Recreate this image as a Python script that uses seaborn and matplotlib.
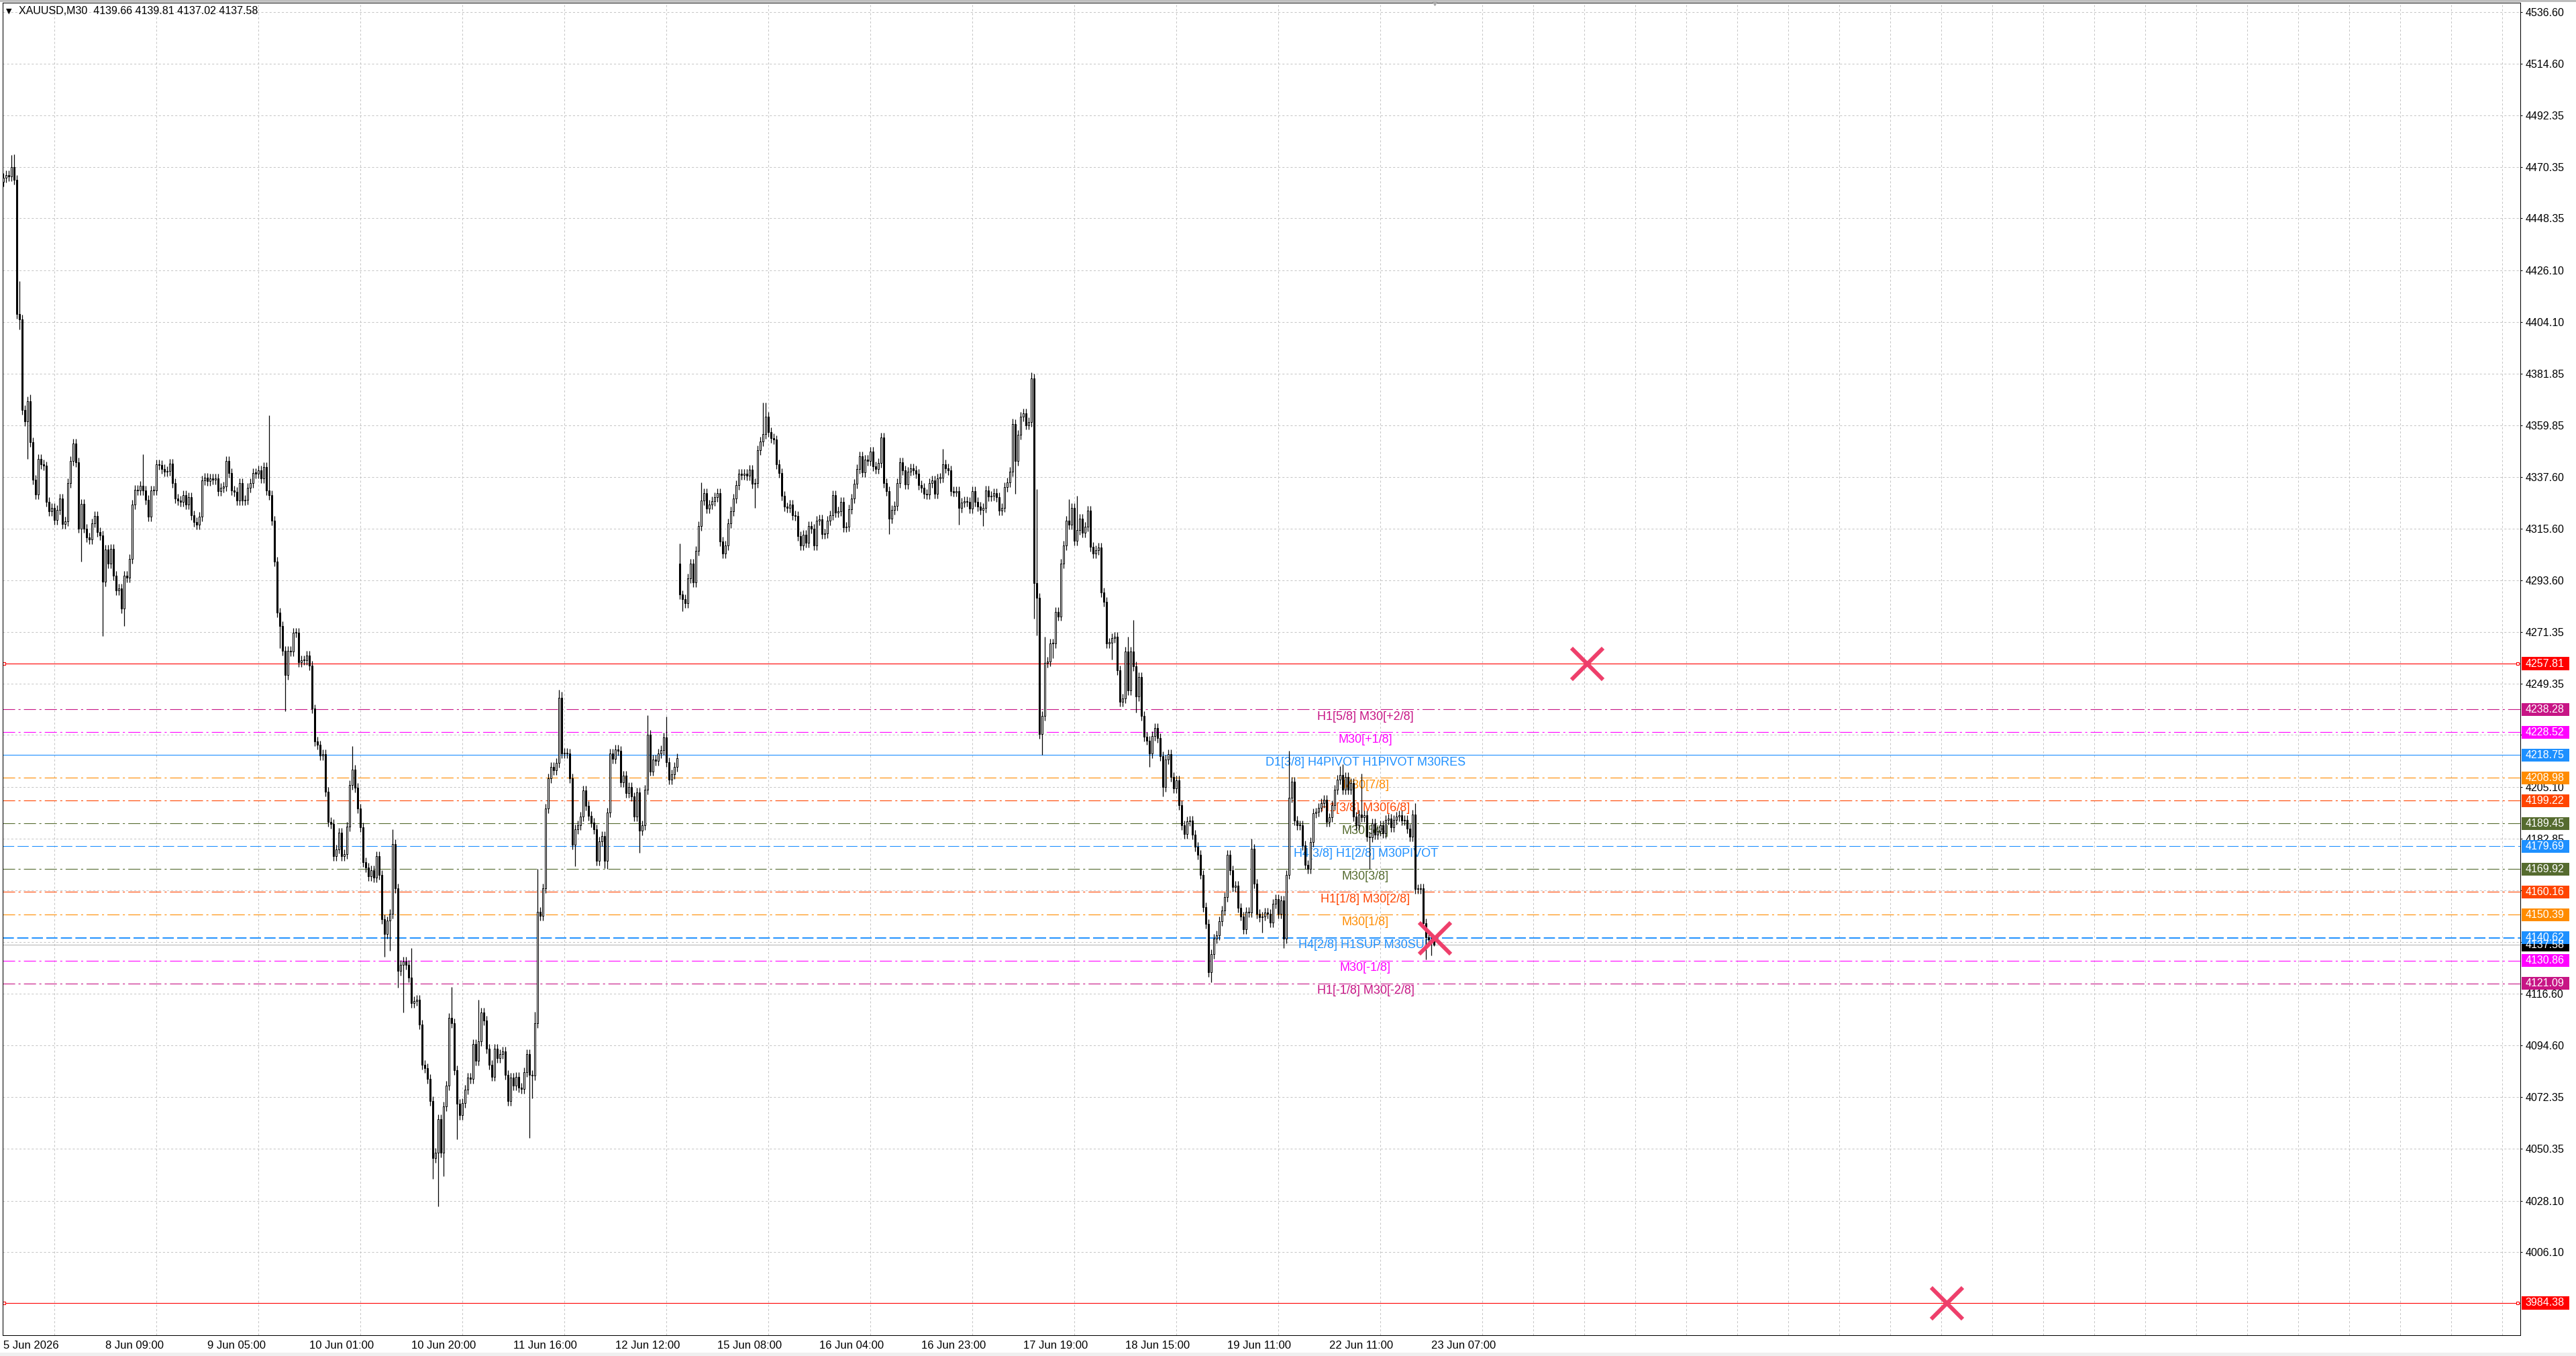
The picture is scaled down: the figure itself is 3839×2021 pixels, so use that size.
import numpy as np
import pandas as pd
import seaborn as sns
import matplotlib.pyplot as plt
import matplotlib.transforms as mtransforms
from matplotlib.patches import Rectangle

# ---------------- XAUUSD M30 closes ----------------
first_open = 4464.0

closes_jun05_08 = [
    4465.8, 4466.7, 4466.3, 4470.3, 4464.8, 4407.3, 4405.0, 4366.5, 4361.4, 4370.1,
    4352.6, 4336.6, 4330.3, 4345.3, 4343.2, 4342.4, 4327.1, 4323.1, 4324.6, 4319.4,
    4323.5, 4328.6, 4317.6, 4318.6, 4335.1, 4344.6, 4351.9, 4344.0, 4315.7, 4326.1,
    4315.7, 4311.8, 4311.0, 4318.0, 4320.9, 4314.1, 4312.6, 4292.9, 4306.7, 4300.7,
    4307.0, 4295.4, 4289.2, 4290.0, 4281.3, 4295.4, 4294.5, 4302.6, 4326.0, 4332.2,
    4331.8, 4334.0, 4331.8, 4327.8, 4320.6, 4331.8, 4331.9, 4343.2, 4342.8, 4341.0,
    4339.9, 4340.2, 4343.5, 4335.2, 4328.6, 4327.5, 4327.1, 4330.0, 4326.0, 4329.0,
    4321.3, 4318.4, 4317.2, 4320.6, 4336.2, 4337.3, 4336.0, 4337.0, 4336.4, 4337.2,
    4331.5, 4333.1, 4333.7, 4344.6, 4339.5, 4331.8, 4331.4, 4327.5, 4335.1, 4327.5,
    4327.8, 4333.0, 4335.1, 4339.5, 4339.2, 4340.5, 4337.1, 4342.0, 4331.8, 4330.0,
    4319.1, 4301.6, 4279.8, 4274.0,
]
closes_jun08_10 = [
    4263.4, 4253.0, 4263.4, 4263.0, 4271.2, 4271.0, 4258.5, 4259.2, 4259.4, 4261.2,
    4257.0, 4238.5, 4224.7, 4223.0, 4218.5, 4219.0, 4203.0, 4190.0, 4189.2, 4175.6,
    4178.5, 4185.6, 4175.6, 4176.3, 4188.0, 4205.8, 4212.5, 4204.7, 4195.8, 4187.8,
    4172.9, 4170.7, 4167.0, 4169.6, 4166.3, 4175.6, 4167.4, 4148.5, 4142.3, 4147.8,
    4150.7, 4180.7, 4161.8, 4126.3, 4129.0, 4130.3, 4129.0, 4123.6, 4112.5, 4113.4,
    4114.0, 4103.4, 4086.3, 4084.8, 4080.3, 4070.8, 4046.3, 4048.5, 4063.0, 4048.5,
    4068.5, 4077.4, 4106.3, 4104.1, 4084.0, 4069.6, 4064.8, 4069.8, 4075.7, 4080.8,
    4080.1, 4095.2, 4087.9, 4096.3, 4108.5, 4105.2, 4093.0, 4086.3, 4081.2, 4093.0,
    4089.0, 4090.8, 4092.0, 4081.9, 4070.8, 4080.8, 4077.4, 4081.2, 4076.5, 4076.0,
    4083.0, 4090.8, 4081.9, 4081.5, 4104.1,
]
closes_jun10_12 = [
    4151.7, 4150.0, 4161.8, 4195.8, 4208.7, 4213.8, 4212.2, 4215.3, 4243.2, 4219.3,
    4219.8, 4219.3, 4208.7, 4180.5, 4186.9, 4188.7, 4192.3, 4203.5, 4197.0, 4192.7,
    4189.9, 4186.9, 4173.5, 4181.7, 4184.0, 4173.5, 4194.2, 4219.3, 4217.0, 4221.1,
    4220.5, 4207.0, 4210.0, 4202.4, 4205.0, 4200.9, 4192.3, 4202.8, 4186.4, 4188.7,
    4204.0, 4227.5, 4211.8, 4216.9, 4216.3, 4219.3, 4220.9, 4226.3, 4215.7, 4208.2,
    4210.6, 4213.8, 4217.4,
]
closes_jun15_16 = [
    4287.3, 4285.4, 4283.8, 4294.4, 4300.7, 4292.5, 4306.1, 4316.7, 4327.7, 4330.7,
    4324.2, 4326.0, 4327.2, 4329.1, 4330.7, 4310.1, 4305.0, 4308.5, 4317.8, 4323.0,
    4328.4, 4334.3, 4339.0, 4338.5, 4339.0, 4338.3, 4340.8, 4334.7, 4335.0, 4349.1,
    4353.0, 4355.9, 4363.6, 4357.0, 4354.2, 4353.6, 4343.2, 4339.4, 4329.6, 4324.9,
    4324.5, 4326.0, 4321.4, 4321.0, 4312.4, 4308.5, 4313.1, 4309.6, 4316.7, 4315.6,
    4308.5, 4319.0, 4319.7, 4313.2, 4313.6, 4319.0, 4321.4, 4330.0, 4322.5, 4323.0,
]
closes_jun16_19 = [
    4327.1, 4316.0, 4316.3, 4323.9, 4328.5, 4334.8, 4341.1, 4346.6, 4339.7, 4345.0,
    4344.5, 4348.7, 4342.2, 4341.1, 4343.6, 4354.7, 4335.1, 4331.6, 4319.9, 4323.7,
    4325.3, 4335.2, 4344.1, 4340.4, 4334.5, 4340.1, 4341.3, 4340.4, 4339.0, 4334.1,
    4333.1, 4330.6, 4330.2, 4335.2, 4336.2, 4330.6, 4337.2, 4337.3, 4343.2, 4341.3,
    4340.4, 4331.7, 4331.2, 4331.7, 4324.4, 4326.7, 4327.4, 4327.1, 4324.1, 4331.7,
    4327.1, 4325.1, 4323.7, 4324.4, 4332.0, 4329.2, 4329.6, 4330.9, 4329.0, 4323.2,
    4324.6, 4333.4, 4335.5, 4340.0, 4360.3, 4344.5, 4355.7, 4363.6, 4365.0, 4359.9,
    4361.2, 4379.8, 4292.4, 4286.1, 4227.6, 4235.5, 4258.2, 4258.6, 4266.6, 4266.4,
    4280.1, 4278.1, 4300.7, 4308.4, 4319.1, 4317.4, 4324.4, 4310.5, 4314.9, 4319.9,
    4313.9, 4316.3, 4323.4, 4307.9, 4304.9, 4306.3, 4307.4, 4288.4, 4284.3, 4266.6,
    4266.9, 4268.7, 4269.4, 4255.1, 4241.5, 4243.0, 4263.1, 4246.5, 4263.1, 4256.8,
    4243.9, 4252.0,
]
closes_jun19_23 = [
    4235.6, 4226.5, 4225.0, 4219.5, 4227.0, 4230.3, 4226.0, 4218.3, 4205.1, 4216.9,
    4219.1, 4209.3, 4204.5, 4207.8, 4197.3, 4188.6, 4185.0, 4190.4, 4190.8, 4184.8,
    4179.5, 4176.2, 4167.6, 4153.7, 4146.5, 4125.9, 4133.6, 4140.3, 4141.7, 4147.6,
    4152.2, 4158.0, 4176.2, 4169.5, 4162.3, 4163.0, 4153.4, 4149.8, 4144.1, 4151.8,
    4151.4, 4178.6, 4163.7, 4150.8, 4149.4, 4149.8, 4151.3, 4150.8, 4147.0, 4155.1,
    4157.2, 4150.8, 4156.5, 4140.3, 4167.6, 4200.6, 4207.3, 4190.8, 4188.8, 4188.7,
    4180.0, 4171.9, 4170.0, 4181.5, 4193.9, 4194.3, 4196.3, 4198.2, 4199.7, 4190.1,
    4192.0, 4197.3, 4204.0, 4208.3, 4210.2, 4204.0, 4209.3, 4204.0, 4206.9, 4192.5,
    4188.6, 4193.4, 4192.0, 4193.0, 4183.9, 4183.4, 4189.6, 4184.8, 4186.0, 4188.6,
    4185.3, 4191.0, 4191.5, 4187.7, 4191.0, 4192.5, 4193.0, 4190.6, 4191.0, 4187.3,
    4183.9, 4193.4, 4161.3, 4161.3, 4161.6, 4146.9, 4140.7, 4140.0, 4139.66, 4137.58,
]

# weekend gap open
gap_opens = {252: 4300.7}

# wicks that stick out clearly (bar index: price)
high_spikes = {3: 4475.5, 4: 4475.7, 6: 4421.5, 10: 4373.0, 52: 4347.5, 99: 4364.0,
               130: 4222.5, 145: 4187.0, 152: 4136.3, 167: 4119.6, 177: 4114.0,
               198: 4109.0, 199: 4170.0, 207: 4246.7, 208: 4245.8, 240: 4235.7,
               247: 4235.2, 252: 4309.2, 260: 4335.4, 283: 4369.5, 284: 4369.5,
               350: 4349.7, 376: 4362.6, 383: 4382.5, 385: 4332.4, 388: 4269.4,
               397: 4328.3, 400: 4329.6, 419: 4269.4, 421: 4276.6, 465: 4182.9,
               479: 4220.7, 498: 4214.0, 499: 4214.7, 506: 4210.7, 526: 4198.2}
low_spikes = {6: 4400.7, 9: 4345.3, 29: 4301.6, 37: 4269.6, 45: 4274.0, 103: 4264.5,
              105: 4237.4, 142: 4132.3, 144: 4134.9, 147: 4119.2, 149: 4108.5,
              160: 4037.4, 162: 4025.6, 164: 4038.5, 169: 4054.4, 196: 4055.0,
              197: 4071.9, 212: 4179.4, 213: 4171.2, 224: 4170.4, 225: 4170.0,
              237: 4177.0, 253: 4280.3, 280: 4324.4, 330: 4313.2, 356: 4317.4,
              365: 4316.7, 377: 4330.6, 384: 4277.0, 385: 4269.8, 386: 4226.2,
              387: 4218.8, 391: 4260.3, 413: 4259.6, 416: 4240.1, 422: 4236.9,
              427: 4213.8, 432: 4201.1, 449: 4124.4, 450: 4121.6, 469: 4142.7,
              477: 4136.1, 487: 4170.4, 509: 4170.0, 529: 4149.9, 530: 4131.2,
              532: 4133.0}

# current bar from the header
header_ohlc = [4139.66, 4139.81, 4137.02, 4137.58]

# ---------------- level lines ----------------
level_prices = [4257.81, 4238.28, 4228.52, 4218.75, 4208.98, 4199.22, 4189.45,
                4179.69, 4169.92, 4160.16, 4150.39, 4140.62, 4130.86, 4121.09, 3984.38]
level_colors = ['#FF0000', '#C71585', '#FF00FF', '#1E90FF', '#FF8C00', '#FF4500', '#556B2F',
                '#1E90FF', '#556B2F', '#FF4500', '#FF8C00', '#1E90FF', '#FF00FF', '#C71585', '#FF0000']
level_styles = ['solid', 'dashdot', 'dashdot', 'solid', 'dashdot', 'dashdot', 'dashdot',
                'dashed', 'dashdot', 'dashdot', 'dashdot', 'dashed', 'dashdot', 'dashdot', 'solid']
level_texts = ['', 'H1[5/8] M30[+2/8]', 'M30[+1/8]', 'D1[3/8] H4PIVOT H1PIVOT M30RES',
               'M30[7/8]', 'H1[3/8] M30[6/8]', 'M30[5/8]', 'H4[3/8] H1[2/8] M30PIVOT',
               'M30[3/8]', 'H1[1/8] M30[2/8]', 'M30[1/8]', 'H4[2/8] H1SUP M30SUP',
               'M30[-1/8]', 'H1[-1/8] M30[-2/8]', '']
bid_price = 4137.58

# cross marks (bar, price)
mark_bars = [590, 724, 533.3]
mark_prices = [4257.81, 3984.38, 4140.4]

# ---------------- axes labels ----------------
y_ticks = [4536.60, 4514.60, 4492.35, 4470.35, 4448.35, 4426.10, 4404.10, 4381.85,
           4359.85, 4337.60, 4315.60, 4293.60, 4271.35, 4249.35, 4227.35, 4205.10,
           4182.85, 4160.85, 4138.85, 4116.60, 4094.60, 4072.35, 4050.35, 4028.10, 4006.10]
# scale values hidden behind the price boxes
y_hidden = [4227.35, 4160.85, 4138.85]
x_label_bars = [0, 38, 76, 114, 152, 190, 228, 266, 304, 342, 380, 418, 456, 494, 532]
x_labels = ['5 Jun 2026', '8 Jun 09:00', '9 Jun 05:00', '10 Jun 01:00', '10 Jun 20:00',
            '11 Jun 16:00', '12 Jun 12:00', '15 Jun 08:00', '16 Jun 04:00', '16 Jun 23:00',
            '17 Jun 19:00', '18 Jun 15:00', '19 Jun 11:00', '22 Jun 11:00', '23 Jun 07:00']

# ---------------- build candles ----------------
closes = np.array(closes_jun05_08 + closes_jun08_10 + closes_jun10_12 +
                  closes_jun15_16 + closes_jun16_19 + closes_jun19_23)
n = len(closes)
opens = np.r_[first_open, closes[:-1]]
for i, v in gap_opens.items():
    opens[i] = v
opens[-1] = header_ohlc[0]
body_top = np.maximum(opens, closes)
body_bot = np.minimum(opens, closes)
wick_pad = 2.0
highs = body_top + wick_pad
lows = body_bot - wick_pad
for i, v in high_spikes.items():
    highs[i] = max(highs[i], v)
for i, v in low_spikes.items():
    lows[i] = min(lows[i], v)
highs[-1] = header_ohlc[1]
lows[-1] = header_ohlc[2]

df = pd.DataFrame({'bar': np.arange(n), 'open': opens, 'high': highs,
                   'low': lows, 'close': closes})
df['up'] = df['close'] >= df['open']
df['body'] = (df['close'] - df['open']).abs().clip(lower=0.35)
df['bottom'] = df[['open', 'close']].min(axis=1)

# ---------------- style ----------------
sns.set_style("white")
plt.rcParams['font.family'] = ['Liberation Sans', 'DejaVu Sans']
plt.rcParams['lines.scale_dashes'] = False

W, H = 3839, 2021
fig = plt.figure(figsize=(W / 100, H / 100), dpi=100)
fig.patch.set_facecolor('white')
ax_l, ax_r, ax_t, ax_b = 3.8, 3756, 4, 1990
ax = fig.add_axes([ax_l / W, (H - ax_b) / H, (ax_r - ax_l) / W, (ax_b - ax_t) / H])
ax.set_facecolor('white')

ax.set_xlim(-0.3, 937.75)
ax.set_ylim(3970.56, 4540.59)

# grid
grid_kw = dict(color='#C4C4C4', lw=0.72, ls=(0, (2.2, 2.2)))
ax.set_xticks(np.arange(0, 938, 19), minor=True)
ax.xaxis.grid(True, which='minor', **grid_kw)
ax.xaxis.grid(False, which='major')
ax.yaxis.grid(True, which='major', **grid_kw)
ax.set_axisbelow(True)

# level lines
style_map = {'solid': '-', 'dashdot': (0, (13, 3.6, 2.2, 3.6)), 'dashed': (0, (12, 3.6))}
for p, c, st in zip(level_prices, level_colors, level_styles):
    lw = 1.4 if (st == 'dashed' and p < 4150) else 0.8
    ax.axhline(p, color=c, lw=lw, ls=style_map[st], zorder=1.2)
ax.axhline(bid_price, color='#B8B8B8', lw=0.8, zorder=1.1)

# small anchors on the red lines
for p, c in zip(level_prices, level_colors):
    if c == '#FF0000':
        ax.plot([0.3, 936.8], [p, p], ls='none', marker='s', ms=3.2, mfc='white',
                mec='#FF0000', mew=0.8, zorder=1.3, clip_on=False)

# level texts
for p, c, t in zip(level_prices, level_colors, level_texts):
    if t:
        ax.text(507.5, p - 3.2, t, color=c, ha='center', va='center', fontsize=13,
                zorder=1.6)

# candles
ax.vlines(df['bar'], df['low'], df['high'], color='black', lw=0.9, zorder=2.9)
ax.bar(df['bar'], df['body'], bottom=df['bottom'], width=0.55,
       color=np.where(df['up'], 'white', 'black'), edgecolor='black',
       linewidth=0.75, zorder=3)

# cross marks
marks = pd.DataFrame({'bar': mark_bars, 'price': mark_prices})
sns.scatterplot(data=marks, x='bar', y='price', marker='x', s=1150, color='#EE3F6B',
                linewidth=4.3, ax=ax, zorder=6, legend=False)

# chart shift marker on the top border
ax.plot([533.3], [4540.59], marker='v', ms=6, color='#A8A8A8', clip_on=False, zorder=7)

# axes / ticks
for s in ax.spines.values():
    s.set_color('black')
    s.set_linewidth(0.75)
ax.yaxis.tick_right()
ax.set_yticks(y_ticks)
ax.set_yticklabels(['' if v in y_hidden else f'{v:.2f}' for v in y_ticks])
ax.tick_params(axis='y', which='major', direction='out', length=2.2, width=0.72,
               pad=3.6, labelsize=11.5, colors='black', right=True, left=False)
ax.set_xticks(x_label_bars)
ax.set_xticklabels(x_labels, ha='left')
ax.tick_params(axis='x', which='major', direction='out', length=3.2, width=0.72,
               pad=2.5, labelsize=12, colors='black')
ax.tick_params(axis='x', which='minor', length=0)
ax.set_xlabel('')
ax.set_ylabel('')

# price boxes on the right scale
trans = mtransforms.blended_transform_factory(ax.transAxes, ax.transData)
box_h = 5.6
box_list = [(bid_price, '#000000')] + [(p, c) for p, c in zip(level_prices, level_colors)]
for p, c in box_list:
    ax.add_patch(Rectangle((1.0005, p - box_h / 2), 0.0189, box_h, transform=trans,
                           facecolor=c, edgecolor='none', clip_on=False, zorder=5))
    ax.text(1.0021, p, f'{p:.2f}', transform=trans, color='white', fontsize=11.5,
            ha='left', va='center', clip_on=False, zorder=6)

# header
fig.text(13.4 / W, 1 - 17 / H, '\u25bc', fontsize=8, family=['DejaVu Sans'],
         ha='center', va='center', color='black')
fig.text(27.6 / W, 1 - 16.7 / H,
         'XAUUSD,M30  ' + ' '.join(f'{v:.2f}' for v in header_ohlc),
         fontsize=11.5, ha='left', va='center', color='black')

# window edges
fig.patches.append(Rectangle((0, 0), 1, 5 / H, transform=fig.transFigure,
                             facecolor='#EFEFEF', edgecolor='none', zorder=0))
fig.patches.append(Rectangle((0, 1 - 3 / H), 1, 3 / H, transform=fig.transFigure,
                             facecolor='#BDBDBD', edgecolor='none', zorder=0))

fig.savefig('out.png', dpi=100, facecolor='white')
plt.close(fig)
